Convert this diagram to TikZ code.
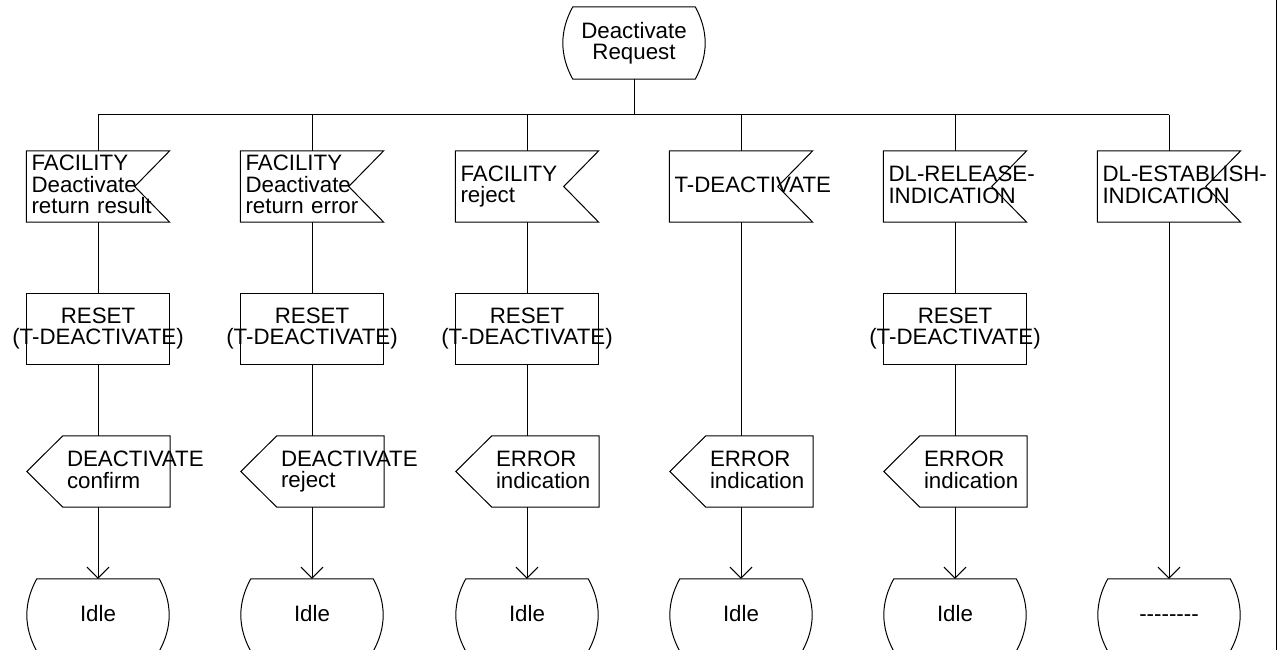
\documentclass[tikz,border=0pt]{standalone}
\usepackage{fontspec}
\setmainfont{Liberation Sans}
\usetikzlibrary{calc,arrows.meta}
\hyphenpenalty=10000
\exhyphenpenalty=10000

\begin{document}
\begin{tikzpicture}
[
x=1pt, y=-1pt,
every node/.style={font=\fontsize{22.3}{21.5}\selectfont, inner sep=0pt,
  execute at begin node=\rule{0pt}{16pt}, execute at end node=\rule[-4pt]{0pt}{4pt}},
Line/.style={draw=black, line width=1pt},
Flow/.style={Line, -{Straight Barb[length=11pt, width=22pt]}},
State/.style={rectangle, minimum width=142pt, minimum height=72pt, align=center},
InSignal/.style={rectangle, minimum width=143pt, minimum height=71pt, text width=133pt, align=left},
Task/.style={rectangle, minimum height=71pt, align=center},
OutSignal/.style={rectangle, minimum width=107pt, minimum height=71pt, text width=99pt, align=left},
]

\useasboundingbox (0,0) rectangle (1282,650);

% border on the right
\draw[Line] (1276,0)--(1276,650);

% start state
\node[State] (start) at (634,43) {Deactivate\\Request};
\coordinate (bar) at (634,115);

% input signals
\node[InSignal] (in1) at (  98,186.5) {FACILITY\\Deactivate\\return result};
\node[InSignal] (in2) at ( 312,186.5) {FACILITY\\Deactivate\\return error};
\node[InSignal] (in3) at ( 527,186.5) {FACILITY\\reject};
\node[InSignal] (in4) at ( 741,186.5) {T-DEACTIVATE};
\node[InSignal] (in5) at ( 955,186.5) {DL-RELEASE-\\INDICATION};
\node[InSignal] (in6) at (1169,186.5) {DL-ESTABLISH-\\INDICATION};

% tasks
\node[Task] (task1) at (  98,328.5) {RESET\\(T-DEACTIVATE)};
\node[Task] (task2) at ( 312,328.5) {RESET\\(T-DEACTIVATE)};
\node[Task] (task3) at ( 527,328.5) {RESET\\(T-DEACTIVATE)};
\node[Task] (task5) at ( 955,328.5) {RESET\\(T-DEACTIVATE)};

% output signals
\node[OutSignal] (out1) at ( 116.5,471.5) {DEACTIVATE\\confirm};
\node[OutSignal] (out2) at ( 330.5,471.5) {DEACTIVATE\\reject};
\node[OutSignal] (out3) at ( 545.5,471.5) {ERROR\\indication};
\node[OutSignal] (out4) at ( 759.5,471.5) {ERROR\\indication};
\node[OutSignal] (out5) at ( 973.5,471.5) {ERROR\\indication};

% next states
\node[State] (idle1) at (  98,615) {Idle};
\node[State] (idle2) at ( 312,615) {Idle};
\node[State] (idle3) at ( 527,615) {Idle};
\node[State] (idle4) at ( 741,615) {Idle};
\node[State] (idle5) at ( 955,615) {Idle};
\node[State] (idle6) at (1169,615) {-{}-{}-{}-{}-{}-{}-{}-};

% outlines
\foreach \n in {start,idle1,idle2,idle3,idle4,idle5,idle6}
  \draw[Line] ($(\n.north west)+(10,0)$) -- ($(\n.north east)+(-10,0)$)
    .. controls ($(\n.north east)+(3.3,24)$) and ($(\n.south east)+(3.3,-24)$) .. ($(\n.south east)+(-10,0)$)
    -- ($(\n.south west)+(10,0)$)
    .. controls ($(\n.south west)+(-3.3,-24)$) and ($(\n.north west)+(-3.3,24)$) .. cycle;
\foreach \n in {in1,in2,in3,in4,in5,in6}
  \draw[Line] (\n.north west) -- (\n.north east) -- ($(\n.east)+(-35,0)$)
    -- (\n.south east) -- (\n.south west) -- cycle;
\foreach \n in {task1,task2,task3,task5}
  \draw[Line] ($(\n.center)+(-71.5,-35.5)$) rectangle ++(143,71);
\foreach \n in {out1,out2,out3,out4,out5}
  \draw[Line] (\n.north west) -- (\n.north east) -- (\n.south east)
    -- (\n.south west) -- ($(\n.west)+(-36,0)$) -- cycle;

% connectors
\draw[Line] (start) -- (bar);
\draw[Line] (in1 |- bar) -- (in6 |- bar);
\foreach \n in {1,...,6}
  \draw[Line] (in\n |- bar) -- (in\n);

\foreach \n in {1,2,3,5} {
  \draw[Line] (in\n) -- (task\n);
  \draw[Line] (task\n) -- (task\n |- out\n.north);
  \draw[Flow] (task\n |- out\n.south) -- (idle\n);
}
\draw[Line] (in4) -- (in4 |- out4.north);
\draw[Flow] (in4 |- out4.south) -- (idle4);
\draw[Flow] (in6) -- (idle6);

\end{tikzpicture}
\end{document}
